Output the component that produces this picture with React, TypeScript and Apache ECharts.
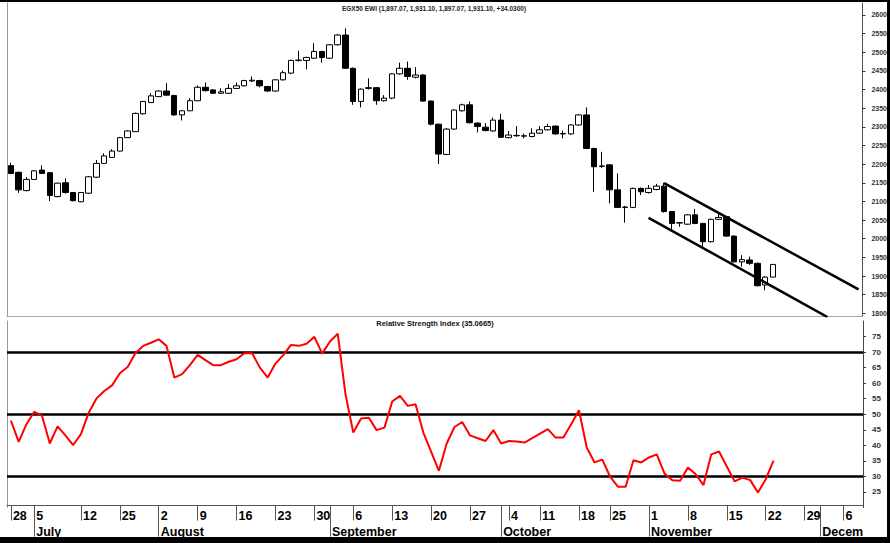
import React, { useEffect, useRef } from 'react';
import * as echarts from 'echarts';

// Daily candles (index 0 .. 98)
const opens = [2196, 2178, 2129, 2159, 2184, 2177, 2113, 2150, 2124, 2099, 2122, 2165, 2202, 2218, 2235, 2271, 2287, 2335, 2365, 2381, 2396, 2384, 2332, 2343, 2370, 2406, 2399, 2390, 2390, 2403, 2410, 2423, 2424, 2408, 2396, 2426, 2444, 2478, 2478, 2484, 2502, 2484, 2520, 2546, 2457, 2368, 2403, 2405, 2370, 2377, 2442, 2457, 2433, 2439, 2369, 2307, 2226, 2294, 2343, 2359, 2310, 2299, 2289, 2318, 2271, 2276, 2275, 2274, 2283, 2292, 2302, 2281, 2281, 2305, 2332, 2242, 2194, 2198, 2131, 2084, 2084, 2135, 2124, 2132, 2141, 2073, 2042, 2039, 2064, 2041, 1992, 2052, 2059, 2007, 1938, 1943, 1934, 1876, 1897.07];
const closes = [2175, 2131, 2159, 2182, 2175, 2116, 2149, 2124, 2102, 2124, 2166, 2202, 2222, 2235, 2271, 2289, 2336, 2368, 2383, 2396, 2385, 2332, 2343, 2370, 2406, 2397, 2390, 2394, 2403, 2410, 2424, 2425, 2410, 2396, 2426, 2445, 2478, 2479, 2486, 2502, 2486, 2520, 2546, 2457, 2368, 2401, 2405, 2370, 2377, 2442, 2457, 2435, 2439, 2369, 2307, 2227, 2294, 2345, 2359, 2311, 2301, 2290, 2318, 2272, 2278, 2277, 2276, 2283, 2292, 2301, 2281, 2282, 2305, 2332, 2242, 2193, 2195, 2131, 2084, 2085, 2135, 2126, 2135, 2141, 2073, 2041, 2043, 2064, 2041, 1992, 2052, 2057, 2007, 1938, 1944, 1934, 1874, 1897.07, 1931.1];
const lows = [2173, 2123, 2127, 2158, 2174, 2101, 2111, 2121, 2100, 2098, 2120, 2163, 2200, 2217, 2234, 2270, 2286, 2333, 2364, 2380, 2384, 2330, 2317, 2342, 2369, 2395, 2388, 2388, 2388, 2402, 2408, 2420, 2406, 2394, 2394, 2424, 2441, 2475, 2454, 2482, 2472, 2482, 2518, 2455, 2359, 2352, 2400, 2359, 2368, 2374, 2440, 2426, 2430, 2367, 2304, 2200, 2224, 2292, 2341, 2309, 2285, 2288, 2287, 2270, 2269, 2273, 2269, 2272, 2281, 2290, 2279, 2269, 2279, 2303, 2240, 2126, 2190, 2095, 2082, 2043, 2082, 2117, 2121, 2130, 2070, 2019, 2032, 2037, 2039, 1979, 1990, 2050, 2005, 1936, 1925, 1930, 1872, 1862, 1897.07];
const highs = [2204, 2180, 2165, 2184, 2197, 2178, 2150, 2162, 2125, 2125, 2168, 2211, 2229, 2240, 2273, 2291, 2338, 2369, 2390, 2398, 2417, 2386, 2345, 2377, 2411, 2419, 2401, 2403, 2415, 2419, 2426, 2435, 2426, 2410, 2428, 2451, 2480, 2504, 2488, 2524, 2504, 2522, 2549, 2564, 2459, 2403, 2430, 2407, 2385, 2444, 2472, 2475, 2460, 2441, 2371, 2309, 2297, 2347, 2362, 2368, 2312, 2310, 2325, 2335, 2289, 2302, 2282, 2296, 2302, 2308, 2304, 2290, 2307, 2334, 2352, 2244, 2233, 2199, 2175, 2088, 2137, 2137, 2144, 2147, 2150, 2074, 2045, 2066, 2080, 2043, 2054, 2068, 2061, 2009, 1956, 1952, 1936, 1900, 1931.1];

// Relative Strength Index, one value per candle
const rsiValues = [48, 41.1, 46.8, 50.8, 49.5, 40.6, 46.1, 43.2, 40.1, 43.6, 50.5, 55.1, 57.5, 59.3, 63.2, 65.2, 69.6, 72.0, 73.0, 74.1, 72.0, 61.8, 62.9, 65.8, 69.1, 67.4, 65.8, 65.8, 66.9, 67.7, 69.6, 69.6, 65.0, 61.8, 66.3, 69.0, 72.3, 72.0, 72.7, 74.9, 69.5, 73.4, 75.9, 56.4, 44.1, 48.6, 48.9, 44.9, 45.7, 54.1, 55.9, 52.7, 53.2, 44.1, 38.0, 31.8, 40.6, 45.9, 47.5, 43.2, 42.3, 41.4, 44.9, 40.6, 41.4, 41.2, 40.9, 42.3, 43.8, 45.2, 42.5, 42.5, 46.8, 51.3, 39.3, 34.5, 35.4, 29.9, 26.7, 26.7, 35.2, 34.5, 36.1, 37.1, 30.9, 28.8, 28.6, 32.9, 30.7, 27.2, 37.1, 38.0, 33.2, 28.4, 29.6, 28.8, 24.8, 29.1, 35.0665];
const rsiLevels = [70, 50, 30];

// Axis slots (trading days incl. empty future days)
const slotCount = 110;
const categories = Array.from({ length: slotCount }, (_, i) => 'd' + i);

// Week tick labels (day of month) and their slots
const weekTickIdx = [0, 3, 9, 14, 19, 24, 29, 34, 39, 44, 49, 54, 59, 64, 68, 73, 77, 82, 87, 92, 97, 102, 107];
const weekTickLabels = ['28', '5', '12', '25', '2', '9', '16', '23', '30', '6', '13', '20', '27', '4', '11', '18', '25', '1', '8', '15', '22', '29', '6'];
// Month tick labels and their slots
const monthTickIdx = [3, 19, 41, 63, 82, 104];
const monthLabels = ['July', 'August', 'September', 'October', 'November', 'December'];

// Channel trend lines: [slot, value]
const upperTrend = [[84, 2149], [109, 1864]];
const lowerTrend = [[82, 2056], [105, 1790]];

const titleMain = 'EGX50 EWI (1,897.07, 1,931.10, 1,897.07, 1,931.10, +34.0300)';
const titleRsi = 'Relative Strength Index (35.0665)';

const FONT = 'Liberation Sans, Arial, sans-serif';

function trendData(pts: number[][]) {
  const arr: (number | null)[] = Array(slotCount).fill(null);
  pts.forEach(([i, v]) => { arr[i] = v; });
  return arr;
}

export default function App() {
  const ref = useRef<HTMLDivElement>(null);
  useEffect(() => {
    document.body.style.margin = '0';
    const chart = echarts.init(ref.current!, null, { renderer: 'svg' });
    const candleData = opens.map((o, i) => [o, closes[i], lows[i], highs[i]]);
    const weekMap: Record<number, string> = {};
    weekTickIdx.forEach((idx, k) => { weekMap[idx] = weekTickLabels[k]; });
    const monthMap: Record<number, string> = {};
    monthTickIdx.forEach((idx, k) => { monthMap[idx] = monthLabels[k]; });
    const lastMonthIdx = monthTickIdx[monthTickIdx.length - 1];

    const option: any = {
      animation: false,
      backgroundColor: '#fff',
      title: [
        {
          text: titleMain, left: 434, top: 5, padding: 0, textAlign: 'center',
          textStyle: { fontSize: 6.5, fontWeight: 'bold', color: '#222', fontFamily: FONT },
        },
        {
          text: titleRsi, left: 435, top: 319, padding: 0, textAlign: 'center',
          textStyle: { fontSize: 7.5, fontWeight: 'bold', color: '#111', fontFamily: FONT },
        },
      ],
      grid: [
        { left: 7, width: 856, top: 3, height: 313.3 },
        { left: 7, width: 856, top: 321, height: 186.5 },
      ],
      xAxis: [
        {
          type: 'category', gridIndex: 0, data: categories, boundaryGap: true,
          axisLine: { lineStyle: { color: '#aaa', width: 1 } },
          axisTick: { show: false }, axisLabel: { show: false }, splitLine: { show: false },
        },
        {
          type: 'category', gridIndex: 1, data: categories, boundaryGap: true, position: 'bottom', offset: -2,
          axisLine: { lineStyle: { color: '#555', width: 1 } },
          axisTick: {
            show: true, alignWithLabel: true, length: 15, inside: false,
            interval: (i: number) => weekMap[i] !== undefined,
            lineStyle: { color: '#555', width: 1 },
          },
          axisLabel: {
            show: true, interval: (i: number) => weekMap[i] !== undefined,
            formatter: (_v: string, i: number) => weekMap[i] ?? '',
            align: 'left', margin: 4, padding: [0, 0, 0, 2],
            fontSize: 12.5, fontWeight: 'bold', color: '#000', fontFamily: FONT,
          },
          splitLine: { show: false },
        },
        {
          type: 'category', gridIndex: 1, data: categories, boundaryGap: true, position: 'bottom', offset: -2,
          axisLine: { show: false },
          axisTick: {
            show: true, alignWithLabel: true, length: 31, inside: false,
            interval: (i: number) => monthMap[i] !== undefined,
            lineStyle: { color: '#555', width: 1 },
          },
          axisLabel: {
            show: true, interval: (i: number) => monthMap[i] !== undefined && i !== lastMonthIdx,
            formatter: (_v: string, i: number) => monthMap[i] ?? '',
            align: 'left', margin: 20, padding: [0, 0, 0, 2],
            fontSize: 12.5, fontWeight: 'bold', color: '#000', fontFamily: FONT,
          },
          splitLine: { show: false },
        },
        {
          type: 'category', gridIndex: 1, data: categories, boundaryGap: true, position: 'bottom', offset: -2,
          axisLine: { show: false },
          axisTick: { show: false },
          axisLabel: {
            show: true, interval: (i: number) => i === lastMonthIdx,
            formatter: (_v: string, i: number) => monthMap[i] ?? '',
            align: 'left', margin: 20, padding: [0, 0, 0, 2],
            width: 43, overflow: 'truncate', ellipsis: '',
            fontSize: 12.5, fontWeight: 'bold', color: '#000', fontFamily: FONT,
          },
          splitLine: { show: false },
        },
      ],
      yAxis: [
        {
          type: 'value', gridIndex: 0, position: 'right', min: 1792, max: 2632, splitNumber: 17,
          axisLine: { show: true, lineStyle: { color: '#333', type: 'dotted', width: 1 } },
          axisTick: { show: true, length: 3, lineStyle: { color: '#333' } },
          axisLabel: {
            showMinLabel: false, showMaxLabel: false, margin: 9,
            formatter: (v: number) => String(v),
            fontSize: 7, fontWeight: 'bold', color: '#333', fontFamily: FONT,
          },
          splitLine: { show: false },
        },
        {
          type: 'value', gridIndex: 1, position: 'right', min: 20, max: 80, interval: 5,
          axisLine: { show: true, lineStyle: { color: '#333', type: 'dotted', width: 1 } },
          axisTick: { show: true, length: 3, lineStyle: { color: '#333' } },
          axisLabel: {
            showMinLabel: false, showMaxLabel: false, margin: 9,
            formatter: (v: number) => String(v),
            fontSize: 8, fontWeight: 'bold', color: '#333', fontFamily: FONT,
          },
          splitLine: { show: false },
        },
        {
          type: 'value', gridIndex: 0, position: 'left', min: 0, max: 1,
          axisLine: { show: true, lineStyle: { color: '#999', width: 1 } },
          axisTick: { show: false }, axisLabel: { show: false }, splitLine: { show: false },
        },
        {
          type: 'value', gridIndex: 1, position: 'left', min: 0, max: 1,
          axisLine: { show: true, lineStyle: { color: '#999', width: 1 } },
          axisTick: { show: false }, axisLabel: { show: false }, splitLine: { show: false },
        },
      ],
      series: [
        {
          type: 'candlestick', xAxisIndex: 0, yAxisIndex: 0, data: candleData, barWidth: 6,
          itemStyle: {
            color: '#fff', color0: '#000', borderColor: '#000', borderColor0: '#000',
            borderColorDoji: '#000', borderWidth: 1,
          },
        },
        {
          type: 'line', xAxisIndex: 0, yAxisIndex: 0, data: trendData(upperTrend), connectNulls: true,
          symbol: 'none', lineStyle: { color: '#000', width: 2.5 }, silent: true,
        },
        {
          type: 'line', xAxisIndex: 0, yAxisIndex: 0, data: trendData(lowerTrend), connectNulls: true,
          symbol: 'none', lineStyle: { color: '#000', width: 2.5 }, silent: true,
        },
        {
          type: 'line', xAxisIndex: 1, yAxisIndex: 1, data: rsiValues, symbol: 'none',
          lineStyle: { color: '#ff0000', width: 2 }, silent: true, z: 3,
          markLine: {
            silent: true, symbol: ['none', 'none'], label: { show: false },
            lineStyle: { color: '#000', width: 2.5, type: 'solid' },
            data: rsiLevels.map((v) => ({ yAxis: v })),
            z: 2,
          },
        },
      ],
      graphic: [
        { type: 'rect', shape: { x: 0, y: 0, width: 890, height: 2 }, style: { fill: '#000' }, silent: true },
        { type: 'rect', shape: { x: 887, y: 0, width: 3, height: 543 }, style: { fill: '#000' }, silent: true },
        { type: 'rect', shape: { x: 0, y: 537, width: 890, height: 6 }, style: { fill: '#000' }, silent: true },
      ],
    };
    chart.setOption(option);
    return () => chart.dispose();
  }, []);
  return <div ref={ref} style={{ width: 890, height: 543, background: '#fff' }} />;
}
